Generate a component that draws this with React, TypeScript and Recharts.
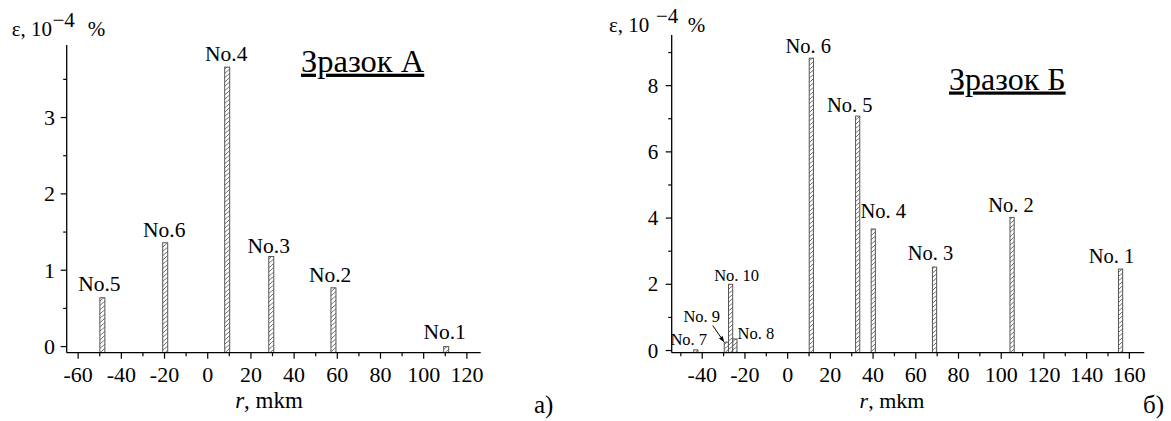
import React from "react"
import { BarChart, Bar, XAxis, YAxis } from "recharts"

const FONT = '"Liberation Serif", "Times New Roman", serif'
const INK = "#000"
const BAR_EDGE = "#555"

// Зразок А
const namesA = ["No.5", "No.6", "No.4", "No.3", "No.2", "No.1"]
const rA = [-49.0, -19.9, 8.8, 29.2, 58.0, 110.2]
const epsA = [0.64, 1.36, 3.66, 1.18, 0.77, 0.0]

// Зразок Б
const namesB = ["No. 7", "No. 9", "No. 10", "No. 8", "No. 6", "No. 5", "No. 4", "No. 3", "No. 2", "No. 1"]
const rB = [-43.0, -28.7, -26.7, -24.7, 11.1, 32.8, 40.1, 68.8, 105.1, 155.9]
const epsB = [0.02, 0.25, 2.0, 0.35, 8.83, 7.08, 3.67, 2.52, 4.02, 2.46]

// ticks (every one drawn, labels only on the major ones)
const xTicksA = [-60, -50, -40, -30, -20, -10, 0, 10, 20, 30, 40, 50, 60, 70, 80, 90, 100, 110, 120]
const yTicksA = [0, 0.5, 1, 1.5, 2, 2.5, 3, 3.5]
const xTicksB = [-50, -40, -30, -20, -10, 0, 10, 20, 30, 40, 50, 60, 70, 80, 90, 100, 110, 120, 130, 140, 150, 160]
const yTicksB = [0, 1, 2, 3, 4, 5, 6, 7, 8, 9]

const X_DOMAIN_A: [number, number] = [-65.3, 126.4]
const Y_DOMAIN_A: [number, number] = [-0.08, 3.95]
const X_DOMAIN_B: [number, number] = [-54.3, 167]
const Y_DOMAIN_B: [number, number] = [-0.066, 9.53]

const dataA = namesA.map((name, i) => ({ name, r: rA[i], eps: epsA[i] }))
const dataB = namesB.map((name, i) => ({ name, r: rB[i], eps: epsB[i] }))

// label placement: [dx from bar centre, gap above bar top]
const NUDGE: Record<string, [number, number]> = {
  "No.5": [-3, 7],
  "No.6": [-1, 6],
  "No.4": [-1, 6],
  "No.3": [-2.5, 3.5],
  "No.2": [-3.3, 6],
  "No.1": [-1.6, 8],
  "No. 6": [-3, 5],
  "No. 5": [-8, 4],
  "No. 4": [10, 10.7],
  "No. 3": [-4, 6.7],
  "No. 2": [-1, 5.6],
  "No. 1": [-9, 6],
  "No. 10": [6, 3.3],
  "No. 9": [-24.6, 20],
  "No. 8": [21, 0],
  "No. 7": [-7, 5],
}
const SMALL_LABELS = ["No. 7", "No. 8", "No. 9", "No. 10"]

function makeBarShape(patternId: string, fontSize: number) {
  return (props: any) => {
    const { x, y, width, height, payload } = props
    const name = payload?.name ?? ""
    const [dx, gap] = NUDGE[name] ?? [0, 6]
    const fs = SMALL_LABELS.includes(name) ? 16.5 : fontSize
    let arrow = null
    if (name === "No. 9") {
      const x0 = x - 11.5
      const y0 = y - 16.7
      const len = Math.hypot(x - x0, y - y0)
      const ux = (x - x0) / len
      const uy = (y - y0) / len
      const bx = x - ux * 6
      const by = y - uy * 6
      arrow = (
        <g>
          <line x1={x0} y1={y0} x2={bx} y2={by} stroke={INK} strokeWidth={1} />
          <polygon
            points={`${x},${y} ${bx - uy * 2.2},${by + ux * 2.2} ${bx + uy * 2.2},${by - ux * 2.2}`}
            fill={INK}
          />
        </g>
      )
    }
    return (
      <g>
        <rect
          x={x}
          y={y}
          width={width}
          height={height}
          fill={`url(#${patternId})`}
          stroke={BAR_EDGE}
          strokeWidth={1}
        />
        <text
          x={x + width / 2 + dx}
          y={y - gap}
          textAnchor="middle"
          fontSize={fs}
          fontFamily={FONT}
          fill={INK}
        >
          {name}
        </text>
        {arrow}
      </g>
    )
  }
}

function makeXTick(isMajor: (v: number) => boolean, fontSize: number) {
  return (props: any) => {
    const { x, y, payload } = props
    const v = payload.value
    const major = isMajor(v)
    return (
      <g>
        <line x1={x} x2={x} y1={y} y2={y + (major ? 6 : 3.5)} stroke={INK} strokeWidth={1.2} />
        {major && (
          <text x={x} y={y + 29} textAnchor="middle" fontSize={fontSize} fontFamily={FONT} fill={INK}>
            {v}
          </text>
        )}
      </g>
    )
  }
}

function makeYTick(isMajor: (v: number) => boolean, fontSize: number, gap: number) {
  return (props: any) => {
    const { x, y, payload } = props
    const v = payload.value
    const major = isMajor(v)
    return (
      <g>
        <line x1={x} x2={x - (major ? 6 : 3.5)} y1={y} y2={y} stroke={INK} strokeWidth={1.2} />
        {major && (
          <text x={x - gap} y={y + fontSize * 0.34} textAnchor="end" fontSize={fontSize} fontFamily={FONT} fill={INK}>
            {v}
          </text>
        )}
      </g>
    )
  }
}

function Hatches() {
  return (
    <svg width={0} height={0} style={{ position: "absolute" }}>
      <defs>
        {["hatchA", "hatchB"].map((id) => (
          <pattern key={id} id={id} patternUnits="userSpaceOnUse" width={5} height={4.3}>
            <rect width={5} height={4.3} fill="#fff" />
            <line x1={0} y1={4.3} x2={5} y2={0} stroke="#444" strokeWidth={0.8} />
          </pattern>
        ))}
      </defs>
    </svg>
  )
}

function ChartA() {
  return (
    <BarChart
      width={600}
      height={421}
      data={dataA}
      margin={{ top: 45, right: 119.3, bottom: 38.3, left: 0 }}
    >
      <XAxis
        type="number"
        dataKey="r"
        domain={X_DOMAIN_A}
        ticks={xTicksA}
        interval={0}
        allowDataOverflow
        height={30}
        tickLine={false}
        tickSize={0}
        tickMargin={0}
        axisLine={{ stroke: INK, strokeWidth: 1.3 }}
        tick={makeXTick((v) => v % 20 === 0, 22)}
      />
      <YAxis
        type="number"
        domain={Y_DOMAIN_A}
        ticks={yTicksA}
        interval={0}
        allowDataOverflow
        width={66.7}
        tickLine={false}
        tickSize={0}
        tickMargin={0}
        axisLine={{ stroke: INK, strokeWidth: 1.3 }}
        tick={makeYTick((v) => Number.isInteger(v), 22, 11.7)}
      />
      <Bar
        dataKey={(d: any) => [Y_DOMAIN_A[0], d.eps]}
        barSize={5}
        isAnimationActive={false}
        shape={makeBarShape("hatchA", 21.5)}
      />
    </BarChart>
  )
}

function ChartB() {
  return (
    <BarChart
      width={571}
      height={421}
      data={dataB}
      margin={{ top: 35, right: 26.7, bottom: 38.3, left: 0 }}
    >
      <XAxis
        type="number"
        dataKey="r"
        domain={X_DOMAIN_B}
        ticks={xTicksB}
        interval={0}
        allowDataOverflow
        height={30}
        tickLine={false}
        tickSize={0}
        tickMargin={0}
        axisLine={{ stroke: INK, strokeWidth: 1.3 }}
        tick={makeXTick((v) => v % 20 === 0, 22)}
      />
      <YAxis
        type="number"
        domain={Y_DOMAIN_B}
        ticks={yTicksB}
        interval={0}
        allowDataOverflow
        width={71.7}
        tickLine={false}
        tickSize={0}
        tickMargin={0}
        axisLine={{ stroke: INK, strokeWidth: 1.3 }}
        tick={makeYTick((v) => v % 2 === 0, 21, 13.4)}
      />
      <Bar
        dataKey={(d: any) => [Y_DOMAIN_B[0], d.eps]}
        barSize={4.2}
        isAnimationActive={false}
        shape={makeBarShape("hatchB", 20.5)}
      />
    </BarChart>
  )
}

function Annotations() {
  const t = { fontFamily: FONT, fill: INK }
  return (
    <svg
      width={1171}
      height={421}
      style={{ position: "absolute", left: 0, top: 0, pointerEvents: "none" }}
    >
      {/* y axis titles */}
      <text {...t} fontSize={21} y={36}>
        <tspan x={11.7}>ε, 10</tspan>
        <tspan x={52.5} dy={-9}>−4</tspan>
        <tspan x={87.7} dy={9}>%</tspan>
      </text>
      <text {...t} fontSize={21} y={32}>
        <tspan x={609}>ε, 10</tspan>
        <tspan x={656} dy={-9}>−4</tspan>
        <tspan x={687.7} dy={9}>%</tspan>
      </text>

      {/* sample titles */}
      <text {...t} fontSize={32.5} x={301} y={71.7} textDecoration="underline">
        Зразок А
      </text>
      <text {...t} fontSize={32} x={949} y={89.5} textDecoration="underline">
        Зразок Б
      </text>

      {/* x axis titles */}
      <text {...t} fontSize={23} x={269} y={408.3} textAnchor="middle">
        <tspan fontStyle="italic">r</tspan>, mkm
      </text>
      <text {...t} fontSize={22} x={892} y={408.3} textAnchor="middle">
        <tspan fontStyle="italic">r</tspan>, mkm
      </text>

      {/* panel letters */}
      <text {...t} fontSize={25} x={534} y={413.3}>
        а)
      </text>
      <text {...t} fontSize={25} x={1143} y={413}>
        б)
      </text>
    </svg>
  )
}

export default function App() {
  return (
    <div
      style={{
        position: "absolute",
        left: 0,
        top: 0,
        width: 1171,
        height: 421,
        background: "#fff",
        fontFamily: FONT,
      }}
    >
      <Hatches />
      <div style={{ position: "absolute", left: 0, top: 0 }}>
        <ChartA />
      </div>
      <div style={{ position: "absolute", left: 600, top: 0 }}>
        <ChartB />
      </div>
      <Annotations />
    </div>
  )
}
